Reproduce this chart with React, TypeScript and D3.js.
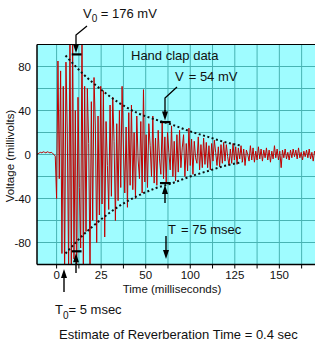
import React from "react";
import * as d3 from "d3";

// ---------- data ----------
const SAMPLE_START = -11.25; // ms, time of first sample
const SAMPLE_STEP = 0.75; // ms between samples

// pre-trigger ripple (t < 0)
const preSignal = [0, 0.5, 1.5, 2, 1.5, 2.5, 2, 1.5, 2.5, 2, 1.5, 2, 1, 0, -1.5];

// hand-clap signal (mV), from t = 0
const clapSignal = [
  -40, 85, -22, 76, -90, 62, -110, 84, 20, -105, 120,
  -115, 110, -95, 40, -120, 52, -30, -85, 105, -100, 62,
  -70, 60, 10, -105, 48, -60, 70, 25, -80, 35, -55, 62,
  -45, 58, -75, 30, -10, -50, 45, -38, 52, 12, -60, 28,
  -42, 40, -30, 62, 5, -35, 25, -48, 38, -28, 45,
  -32, 20, -40, 35, -5, -22, 30, -35, 59, -25, 18,
  -30, 28, 8, -20, 35, -26, 15, -28, 22, -4, -18, 30,
  -22, 16, -25, 20, 2, -14, 26, -20, 12, -24, 18,
  -16, 22, -12, 6, 18, -20, 10, -15, 24, -10, 14,
  -18, 12, -3, -8, 16, -14, 9, -12, 15, -9, 11,
  -12, 8, -14, 10, -6, 13, 2, -10, 7, -11, 9,
  -8, 11, -6, 9, -2, -10, 5, -8, 10, -5, 7,
  -9, 6, -4, 8, -7, 5, -10, 4, 0, -6, 8,
  -5, 6, -7, 3, -5, 7, -4, 5, -6, 4,
  -3, 6, -5, 4, -7, 3, -4, 8, -3, 5,
  -5, 3, -12, 4, -3, 5, -4, 2, -5, 4,
  -3, 5, -2, 4, -4, 6, -3, 2, -5, 3,
  -2, 4, -3, 5, -4, 2, -6, 3, -2, 4,
  -3, 2, -4, 5, -2, 3, -3, 4,
];

// decay envelope
const envelopeT = [5, 15, 25, 35, 45, 55, 65, 75, 85, 95, 104];
const envelopeUpper = [90, 73, 59, 47, 38, 32, 27, 21, 16, 11, 8];
const envelopeLower = [-90, -73, -59, -47, -38, -31, -26, -20, -15, -10, -7];

const xGridValues = d3.range(0, 140, 12.5);
const xTickValues = [0, 25, 50, 75, 100, 125];
const xTickLabels = ["0", "25", "50", "100", "125", "150"];
const yGridValues = d3.range(-80, 81, 20);
const yTickValues = [80, 40, 0, -40, -80];
const yTickLabels = ["80", "40", "0", "-40", "-80"];

// annotation anchors (data units)
const v0BarT = [8.5, 14]; // ms
const v0Level = [91, -88];
const vBarT = [58, 64];
const vLevel = [29.5, -26];

// ---------- layout ----------
const W = 328;
const H = 348;
const L = 37,
  R = 315,
  T = 44.5,
  B = 264.5;
const FONT = "'Liberation Sans', Arial, Helvetica, sans-serif";
const BG = "#9ffcff";
const GRID = "#48b3b3";
const RED = "#c00000";

function Arrow({ x, y1, y2, tip }: { x: number; y1: number; y2: number; tip: "down" | "up" }) {
  const hw = 3,
    hh = 9;
  const tipY = tip === "down" ? y2 : y1;
  const baseY = tip === "down" ? y2 - hh : y1 + hh;
  const shaftStart = tip === "down" ? y1 : baseY;
  const shaftEnd = tip === "down" ? baseY : y2;
  return (
    <g>
      <line x1={x} x2={x} y1={shaftStart} y2={shaftEnd} stroke="#000" strokeWidth={1.4} />
      <path d={`M${x - hw},${baseY} L${x + hw},${baseY} L${x},${tipY} Z`} fill="#000" />
    </g>
  );
}

export default function App() {
  const x = d3.scaleLinear().domain([-11, 145]).range([L, R]);
  const y = d3.scaleLinear().domain([-100, 100]).range([B, T]);

  const samples = [...preSignal, ...clapSignal];
  const line = d3
    .line<number>()
    .x((_, i) => x(SAMPLE_START + i * SAMPLE_STEP))
    .y((d) => y(d));

  const env = d3
    .line<number>()
    .x((_, i) => x(envelopeT[i]))
    .y((d) => y(d))
    .curve(d3.curveMonotoneX);

  return (
    <svg width={W} height={H} style={{ display: "block", position: "absolute", left: 0, top: 0 }} fontFamily={FONT}>
      <defs>
        <clipPath id="plot">
          <rect x={L} y={T} width={R - L} height={B - T} />
        </clipPath>
      </defs>
      <rect width={W} height={H} fill="#fff" />
      <rect x={L} y={T} width={R - L} height={B - T} fill={BG} />
      {xGridValues.map((v) => (
        <line key={"gx" + v} x1={x(v)} x2={x(v)} y1={T} y2={B} stroke={GRID} strokeWidth={1} />
      ))}
      {yGridValues.map((v) => (
        <line key={"gy" + v} x1={L} x2={R} y1={y(v)} y2={y(v)} stroke={GRID} strokeWidth={1} />
      ))}

      <g clipPath="url(#plot)">
        <path d={line(samples) || ""} fill="none" stroke={RED} strokeWidth={1} strokeLinejoin="bevel" />
        <path d={env(envelopeUpper) || ""} fill="none" stroke="#111" strokeWidth={2} strokeDasharray="2 2.5" />
        <path d={env(envelopeLower) || ""} fill="none" stroke="#111" strokeWidth={2} strokeDasharray="2 2.5" />
      </g>

      {/* axes */}
      <line x1={L} x2={R} y1={T} y2={T} stroke="#000" strokeWidth={1.2} />
      <line x1={L} x2={L} y1={T} y2={B} stroke="#000" strokeWidth={1.5} />
      <line x1={L} x2={R} y1={B} y2={B} stroke="#000" strokeWidth={1.5} />
      {xGridValues.map((v) => (
        <line key={"tx" + v} x1={x(v)} x2={x(v)} y1={B} y2={B + 4} stroke="#000" strokeWidth={1} />
      ))}
      {xTickValues.map((v, i) => (
        <text key={"lx" + v} x={x(v)} y={279} fontSize={11.5} textAnchor="middle" fill="#111">
          {xTickLabels[i]}
        </text>
      ))}
      {yTickValues.map((v, i) => (
        <text key={"ly" + v} x={31} y={y(v) + 4} fontSize={11.5} textAnchor="end" fill="#111">
          {yTickLabels[i]}
        </text>
      ))}
      <text x={172} y={292.5} fontSize={11.5} textAnchor="middle" fill="#111">
        Time (milliseconds)
      </text>
      <text transform="translate(14,156) rotate(-90)" fontSize={11.5} textAnchor="middle" fill="#111">
        Voltage (millivolts)
      </text>

      {/* bars */}
      {v0Level.map((lv) => (
        <line key={"b0" + lv} x1={x(v0BarT[0])} x2={x(v0BarT[1])} y1={y(lv)} y2={y(lv)} stroke="#000" strokeWidth={2.2} />
      ))}
      {vLevel.map((lv) => (
        <line key={"b1" + lv} x1={x(vBarT[0])} x2={x(vBarT[1])} y1={y(lv)} y2={y(lv)} stroke="#000" strokeWidth={2.2} />
      ))}

      {/* V0 annotation */}
      <text x={83} y={17.5} fontSize={13} fill="#111">
        V<tspan fontSize={10} dy={4.5}>0</tspan>
        <tspan dy={-4.5}> = 176 mV</tspan>
      </text>
      <polyline points="87,26 76,35 76,45" fill="none" stroke="#000" strokeWidth={1.3} />
      <Arrow x={76} y1={44} y2={y(v0Level[0]) - 1.5} tip="down" />
      <Arrow x={76} y1={y(v0Level[1]) + 2} y2={273} tip="up" />

      {/* Hand clap label */}
      <text x={131} y={59.5} fontSize={13} fill="#111">
        Hand clap data
      </text>

      {/* V annotation */}
      <text x={175} y={81} fontSize={13} fill="#111">
        V<tspan dx={5}>= 54 mV</tspan>
      </text>
      <polyline points="177,87 165,98 165,112" fill="none" stroke="#000" strokeWidth={1.3} />
      <Arrow x={165} y1={110} y2={y(vLevel[0]) - 1.5} tip="down" />
      <Arrow x={165} y1={y(vLevel[1]) + 2} y2={203} tip="up" />

      {/* T annotation */}
      <text x={168} y={233.5} fontSize={13} fill="#111">
        T<tspan dx={5}>= 75 msec</tspan>
      </text>
      <Arrow x={166} y1={236} y2={259} tip="down" />

      {/* T0 annotation */}
      <Arrow x={64} y1={269} y2={292} tip="up" />
      <text x={55} y={314} fontSize={13} fill="#111">
        T<tspan fontSize={10} dy={4.5}>0</tspan>
        <tspan dy={-4.5}>= 5 msec</tspan>
      </text>

      <text x={59} y={339} fontSize={13} fill="#111">
        Estimate of Reverberation Time = 0.4 sec
      </text>
    </svg>
  );
}
